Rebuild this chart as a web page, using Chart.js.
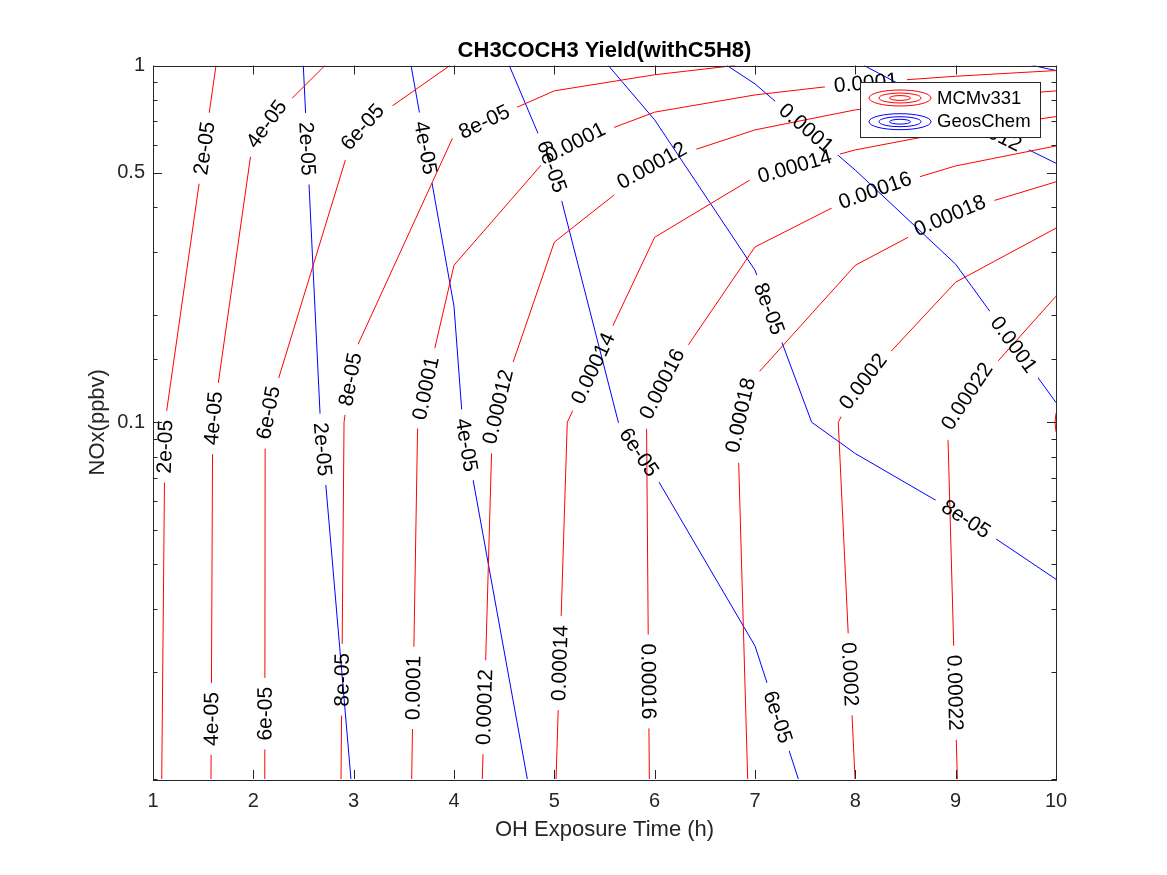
<!DOCTYPE html>
<html lang="en">
<head>
<meta charset="UTF-8">
<title>CH3COCH3 Yield(withC5H8)</title>
<script src="https://cdn.jsdelivr.net/npm/chart.js"></script>
<style>
  body { margin: 0; background: #fff; }
  #wrap { width: 1167px; height: 875px; }
</style>
</head>
<body>
<div id="wrap"><canvas id="yieldChart" width="1167" height="875"></canvas></div>
<script>
// Contour lines: x = OH exposure time (h), y = NOx (ppbv)
const xTicks = [1, 2, 3, 4, 5, 6, 7, 8, 9, 10];
const yTickLabels = [0.1, 0.5, 1];
const seriesNames = ['MCMv331', 'GeosChem'];

// MCMv331 (red) contours
const mcmLevels = ['2e-05', '4e-05', '6e-05', '8e-05', '0.0001', '0.00012', '0.00014',
                   '0.00016', '0.00018', '0.0002', '0.00022', '0.00024'];
const mcmX = [
  [1.087, 1.12, 1.628],
  [1.578, 1.595, 2.0, 2.714],
  [2.114, 2.118, 3.0, 3.96],
  [2.874, 2.904, 3.0, 4.0, 5.0, 6.0, 6.80],
  [3.578, 3.638, 4, 5, 6, 7, 8, 9, 10],
  [4.282, 4.383, 5, 6, 7, 8, 9, 10],
  [5.017, 5.129, 6, 7, 8, 9, 10],
  [5.947, 5.919, 6, 7, 8, 9, 10],
  [6.927, 6.826, 7, 8, 9, 10],
  [7.997, 7.830, 8, 9, 10],
  [9.017, 8.919, 9, 10],
  [10, 9.99, 10]
];
const mcmY = [
  [0.01, 0.1, 1],
  [0.01, 0.1, 0.631, 1],
  [0.01, 0.1, 0.647, 1],
  [0.01, 0.1, 0.1554, 0.639, 0.849, 0.942, 1],
  [0.01, 0.1, 0.2755, 0.580, 0.740, 0.827, 0.891, 0.933, 0.968],
  [0.01, 0.1, 0.3198, 0.533, 0.660, 0.751, 0.806, 0.849],
  [0.01, 0.1, 0.330, 0.487, 0.580, 0.656, 0.719],
  [0.01, 0.1, 0.1197, 0.310, 0.4305, 0.523, 0.595],
  [0.01, 0.1, 0.1344, 0.2755, 0.388, 0.472],
  [0.01, 0.1, 0.1235, 0.247, 0.350],
  [0.01, 0.1, 0.1093, 0.2256],
  [0.094, 0.1, 0.106]
];
const mcmLabelX = [
  [1.125, 1.511],
  [1.585, 1.623, 2.174],
  [2.116, 2.176, 3.141],
  [2.886, 2.980, 4.302],
  [3.594, 3.725, 5.223, 8.105],
  [4.304, 4.480, 6.020],
  [5.050, 5.389, 7.396],
  [5.942, 6.128, 8.204],
  [6.923, 8.961],
  [7.939, 8.105],
  [9.001, 9.168],
  []
];
const mcmLabelY = [
  [0.0854, 0.586],
  [0.01473, 0.1024, 0.667],
  [0.01524, 0.1058, 0.640],
  [0.01897, 0.1318, 0.695],
  [0.0180, 0.1244, 0.5957, 0.894],
  [0.0159, 0.1095, 0.504],
  [0.02113, 0.1415, 0.519],
  [0.01877, 0.125, 0.4402],
  [0.1029, 0.371],
  [0.01965, 0.1278],
  [0.01744, 0.1145],
  []
];

// GeosChem (blue) contours
const geosLevels = ['2e-05', '4e-05', '6e-05', '8e-05', '0.0001', '0.00012', '0.00014'];
const geosX = [
  [2.498, 2.669, 2.973],
  [3.572, 4.0, 4.086, 4.731],
  [4.551, 5, 5.638, 6, 7, 7.432],
  [5.538, 6, 7, 7.565, 8, 9, 10],
  [6.721, 7, 8, 9, 10],
  [8.087, 9, 10],
  [9.768, 10]
];
const geosY = [
  [1, 0.1, 0.01],
  [1, 0.2113, 0.1, 0.01],
  [1, 0.5029, 0.1, 0.0713, 0.0236, 0.01],
  [1, 0.704, 0.2667, 0.1, 0.0817, 0.0561, 0.0363],
  [1, 0.888, 0.509, 0.2773, 0.1136],
  [1, 0.732, 0.532],
  [1, 0.968]
];
const geosLabelX = [
  [2.542, 2.691],
  [3.716, 4.132],
  [4.952, 5.842, 7.226],
  [7.147, 9.098],
  [7.511, 9.580],
  [9.303],
  []
];
const geosLabelY = [
  [0.5844, 0.0840],
  [0.5879, 0.0864],
  [0.5176, 0.0823, 0.01492],
  [0.2083, 0.0532],
  [0.667, 0.1651],
  [0.660],
  []
];

const FONT = "'Liberation Sans', Arial, Helvetica, sans-serif";
const AXIS_COLOR = '#262626';
const seriesColors = ['#ff0000', '#0000ff'];
const LABEL_SIZE = 21;

function buildSets(levels, xs, ys, lx, ly, color, name) {
  return levels.map((lev, i) => ({
    label: name,
    levelText: lev,
    data: xs[i].map((x, j) => ({ x: x, y: ys[i][j] })),
    labelAt: lx[i].map((x, j) => ({ x: x, y: ly[i][j] })),
    borderColor: color,
    borderWidth: 1,
    pointRadius: 0,
    showLine: true,
    fill: false
  }));
}

const datasets = buildSets(mcmLevels, mcmX, mcmY, mcmLabelX, mcmLabelY, seriesColors[0], seriesNames[0])
  .concat(buildSets(geosLevels, geosX, geosY, geosLabelX, geosLabelY, seriesColors[1], seriesNames[1]));

function isLabelled(v) {
  return yTickLabels.some(t => Math.abs(t - v) / t < 1e-6);
}

function pointAt(pts, cum, s) {
  s = Math.max(0, Math.min(cum[cum.length - 1], s));
  for (let i = 1; i < pts.length; i++) {
    if (s <= cum[i] || i === pts.length - 1) {
      const seg = (cum[i] - cum[i - 1]) || 1;
      const t = (s - cum[i - 1]) / seg;
      return { x: pts[i - 1].x + t * (pts[i].x - pts[i - 1].x), y: pts[i - 1].y + t * (pts[i].y - pts[i - 1].y) };
    }
  }
  return pts[0];
}

// put each label on its line, angle taken from the line around it
function labelBoxes(chart, index) {
  const ds = chart.data.datasets[index];
  if (!ds.labelAt || !ds.labelAt.length) return [];
  const xs = chart.scales.x, ys = chart.scales.y;
  const pts = ds.data.map(p => ({ x: xs.getPixelForValue(p.x), y: ys.getPixelForValue(p.y) }));
  const cum = [0];
  for (let i = 1; i < pts.length; i++) {
    cum.push(cum[i - 1] + Math.hypot(pts[i].x - pts[i - 1].x, pts[i].y - pts[i - 1].y));
  }
  const ctx = chart.ctx;
  ctx.save();
  ctx.font = LABEL_SIZE + 'px ' + FONT;
  const w = ctx.measureText(ds.levelText).width;
  ctx.restore();

  return ds.labelAt.map(lp => {
    const px = xs.getPixelForValue(lp.x), py = ys.getPixelForValue(lp.y);
    let best = null;
    for (let i = 1; i < pts.length; i++) {
      const ax = pts[i - 1].x, ay = pts[i - 1].y;
      const dx = pts[i].x - ax, dy = pts[i].y - ay;
      const L2 = dx * dx + dy * dy || 1;
      let t = ((px - ax) * dx + (py - ay) * dy) / L2;
      t = Math.max(0, Math.min(1, t));
      const qx = ax + t * dx, qy = ay + t * dy;
      const d = Math.hypot(px - qx, py - qy);
      if (!best || d < best.d) best = { d: d, x: qx, y: qy, s: cum[i - 1] + t * Math.sqrt(L2) };
    }
    const half = w / 2 + 9;
    const a = pointAt(pts, cum, best.s - half);
    const b = pointAt(pts, cum, best.s + half);
    let ang = Math.atan2(b.y - a.y, b.x - a.x);
    if (ang > Math.PI / 2 + 1e-9) ang -= Math.PI;
    if (ang <= -Math.PI / 2) ang += Math.PI;
    return { x: best.x, y: best.y, ang: ang, w: w, text: ds.levelText };
  });
}

const contourPlugin = {
  id: 'contourPlugin',
  beforeDatasetDraw(chart, args) {
    const boxes = labelBoxes(chart, args.index);
    const ctx = chart.ctx;
    ctx.save();
    ctx.beginPath();
    ctx.rect(0, 0, chart.width, chart.height);
    boxes.forEach(b => {
      const c = Math.cos(b.ang), s = Math.sin(b.ang);
      const hw = b.w / 2 + 9, hh = 11;
      const corners = [[-hw, -hh], [hw, -hh], [hw, hh], [-hw, hh]]
        .map(([u, v]) => [b.x + u * c - v * s, b.y + u * s + v * c]);
      ctx.moveTo(corners[0][0], corners[0][1]);
      for (let k = 1; k < 4; k++) ctx.lineTo(corners[k][0], corners[k][1]);
      ctx.closePath();
    });
    ctx.clip('evenodd');
  },
  afterDatasetDraw(chart) {
    chart.ctx.restore();
  },
  afterDatasetsDraw(chart) {
    const ctx = chart.ctx;
    const area = chart.chartArea;
    // contour labels
    ctx.save();
    ctx.beginPath();
    ctx.rect(area.left, area.top, area.right - area.left, area.bottom - area.top);
    ctx.clip();
    ctx.font = LABEL_SIZE + 'px ' + FONT;
    ctx.fillStyle = '#000';
    ctx.textAlign = 'center';
    ctx.textBaseline = 'middle';
    chart.data.datasets.forEach((ds, i) => {
      labelBoxes(chart, i).forEach(b => {
        ctx.save();
        ctx.translate(b.x, b.y);
        ctx.rotate(b.ang);
        ctx.fillText(b.text, 0, 1);
        ctx.restore();
      });
    });
    ctx.restore();

    // axes box and inward ticks
    const xs = chart.scales.x, ys = chart.scales.y;
    ctx.save();
    ctx.strokeStyle = AXIS_COLOR;
    ctx.lineWidth = 1;
    ctx.beginPath();
    xs.ticks.forEach(t => {
      const px = Math.round(xs.getPixelForValue(t.value)) + 0.5;
      ctx.moveTo(px, area.bottom); ctx.lineTo(px, area.bottom - 9);
      ctx.moveTo(px, area.top); ctx.lineTo(px, area.top + 9);
    });
    ys.ticks.forEach(t => {
      const py = Math.round(ys.getPixelForValue(t.value)) + 0.5;
      const len = isLabelled(t.value) ? 9 : 4.5;
      ctx.moveTo(area.left, py); ctx.lineTo(area.left + len, py);
      ctx.moveTo(area.right, py); ctx.lineTo(area.right - len, py);
    });
    ctx.stroke();
    ctx.strokeRect(Math.round(area.left) + 0.5, Math.round(area.top) + 0.5,
      Math.round(area.right - area.left), Math.round(area.bottom - area.top));
    ctx.restore();
  },
  afterDraw(chart) {
    const ctx = chart.ctx;
    const area = chart.chartArea;
    const cx = (area.left + area.right) / 2;
    ctx.save();
    // title
    ctx.fillStyle = '#000';
    ctx.font = 'bold 22px ' + FONT;
    ctx.textAlign = 'center';
    ctx.textBaseline = 'alphabetic';
    ctx.fillText('CH3COCH3 Yield(withC5H8)', cx, 57);
    // axis titles
    ctx.fillStyle = AXIS_COLOR;
    ctx.font = '22px ' + FONT;
    ctx.fillText('OH Exposure Time (h)', cx, 836);
    ctx.save();
    ctx.translate(104, (area.top + area.bottom) / 2);
    ctx.rotate(-Math.PI / 2);
    ctx.fillText('NOx(ppbv)', 0, 0);
    ctx.restore();

    // legend
    const bx = 860.5, by = 82.5, bw = 180, bh = 55;
    ctx.fillStyle = '#fff';
    ctx.fillRect(bx, by, bw, bh);
    ctx.strokeStyle = AXIS_COLOR;
    ctx.lineWidth = 1;
    ctx.strokeRect(bx, by, bw, bh);
    seriesNames.forEach((name, i) => {
      const ey = 98 + i * 23.7, ex = 900;
      ctx.strokeStyle = seriesColors[i];
      [[31, 8], [21, 5], [10.5, 2.4]].forEach(r => {
        ctx.beginPath();
        ctx.ellipse(ex, ey, r[0], r[1], 0, 0, 2 * Math.PI);
        ctx.stroke();
      });
      ctx.fillStyle = '#000';
      ctx.font = '18.5px ' + FONT;
      ctx.textAlign = 'left';
      ctx.textBaseline = 'middle';
      ctx.fillText(name, 937, ey + 0.5);
    });
    ctx.restore();
  }
};

new Chart(document.getElementById('yieldChart'), {
  type: 'scatter',
  data: { datasets: datasets },
  plugins: [contourPlugin],
  options: {
    responsive: false,
    animation: false,
    events: [],
    layout: { padding: { top: 65.5, right: 111, bottom: 0, left: 0 } },
    plugins: {
      legend: { display: false },
      tooltip: { enabled: false },
      title: { display: false }
    },
    scales: {
      x: {
        type: 'linear',
        min: 1,
        max: 10,
        afterBuildTicks: s => { s.ticks = xTicks.map(v => ({ value: v })); },
        afterFit: s => { s.height = 96; },
        grid: { display: false, drawTicks: false },
        border: { display: false },
        ticks: {
          autoSkip: false,
          maxRotation: 0,
          padding: 10,
          color: AXIS_COLOR,
          font: { family: FONT, size: 20 }
        }
      },
      y: {
        type: 'logarithmic',
        min: 0.01,
        max: 1,
        afterFit: s => { s.width = 153; },
        grid: { display: false, drawTicks: false },
        border: { display: false },
        ticks: {
          autoSkip: false,
          padding: 8,
          color: AXIS_COLOR,
          font: { family: FONT, size: 20 },
          callback: v => (isLabelled(v) ? String(v) : '')
        }
      }
    }
  }
});
</script>
</body>
</html>
